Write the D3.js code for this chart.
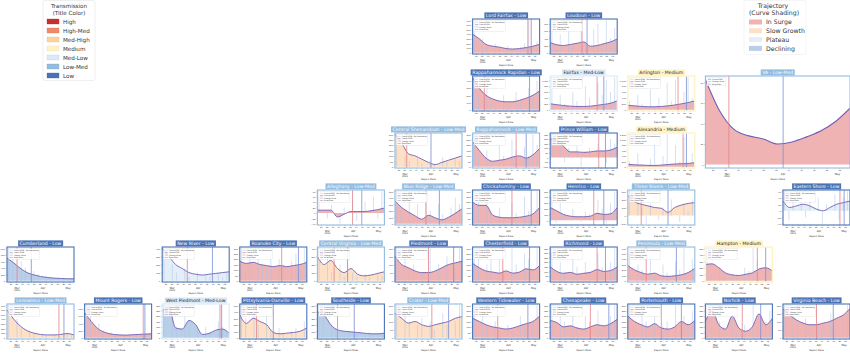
<!DOCTYPE html>
<html>
<head>
<meta charset="utf-8">
<script src="https://cdn.jsdelivr.net/npm/d3@7"></script>
<style>
body { margin: 0; background: #fff; font-family: "DejaVu Sans", sans-serif; }
</style>
</head>
<body>
<script>
// Health district panels, laid out roughly like the map of Virginia
var names = ["Lord Fairfax", "Loudoun", "Rappahannock Rapidan", "Fairfax", "Arlington", "VA",
  "Central Shenandoah", "Rappahannock", "Prince William", "Alexandria",
  "Alleghany", "Blue Ridge", "Chickahominy", "Henrico", "Three Rivers", "Eastern Shore",
  "Cumberland", "New River", "Roanoke City", "Central Virginia", "Piedmont", "Chesterfield", "Richmond", "Peninsula", "Hampton",
  "Lenowisco", "Mount Rogers", "West Piedmont", "Pittsylvania-Danville", "Southside", "Crater", "Western Tidewater", "Chesapeake", "Portsmouth", "Norfolk", "Virginia Beach"];

var levels = ["Low", "Low", "Low", "Med-Low", "Medium", "Low-Med",
  "Low-Med", "Low-Med", "Low", "Medium",
  "Low-Med", "Low-Med", "Low", "Low", "Low-Med", "Low",
  "Low", "Low", "Low", "Low-Med", "Low", "Low", "Low", "Low-Med", "Medium",
  "Low-Med", "Low", "Med-Low", "Low", "Low", "Low-Med", "Low", "Low", "Low", "Low", "Low"];

var trajectories = ["In Surge", "In Surge", "In Surge", "In Surge", "In Surge", "In Surge",
  "Slow Growth", "In Surge", "In Surge", "In Surge",
  "In Surge", "In Surge", "In Surge", "In Surge", "Slow Growth", "Plateau",
  "Declining", "Plateau", "In Surge", "Slow Growth", "In Surge", "In Surge", "In Surge", "In Surge", "In Surge",
  "Slow Growth", "In Surge", "Declining", "Slow Growth", "Declining", "Slow Growth", "In Surge", "In Surge", "In Surge", "In Surge", "In Surge"];

var changeDates = ["2022-04-24", "2022-03-27", "2022-03-03", "2022-04-14", "2022-04-18", "2022-03-02",
  "2022-03-03", "2022-04-10", "2022-04-16", "2022-04-24",
  "2022-03-31", "2022-03-26", "2022-04-05", "2022-04-10", "2022-03-05", "2022-04-26",
  "2022-03-01", "2022-03-19", "2022-04-08", "2022-03-09", "2022-03-29", "2022-03-25", "2022-04-14", "2022-03-11", "2022-04-20",
  "2022-04-20", "2022-04-28", "2022-04-27", "2022-03-09", "2022-03-13", "2022-04-02", "2022-03-19", "2022-04-06", "2022-03-29", "2022-04-02", "2022-03-29"];

var pointDates = ["2022-04-28", "2022-04-02", "2022-04-26", "2022-04-22", "2022-04-28", "2022-04-01",
  "2022-04-01", "2022-04-22", "2022-04-24", "2022-04-28",
  "2022-04-11", "2022-04-11", "2022-04-28", "2022-04-22", "2022-04-06", "2022-05-01",
  "2022-03-18", "2022-04-18", "2022-04-28", "2022-03-25", "2022-04-28", "2022-04-26", "2022-04-24", "2022-04-16", "2022-04-30",
  "2022-04-26", "2022-04-30", "2022-04-29", "2022-03-29", "2022-04-02", "2022-04-22", "2022-04-24", "2022-04-28", "2022-04-22", "2022-04-24", "2022-04-18"];

var dateRange = ["2022-02-17", "2022-05-08"];

// Cases/100K (smoothed)
var smoothDates = ["2022-02-17", "2022-02-25", "2022-03-05", "2022-03-13", "2022-03-21", "2022-03-29",
  "2022-04-06", "2022-04-14", "2022-04-22", "2022-04-30", "2022-05-08"];
var smoothVals = [
  [400, 300, 180, 140, 120, 90, 80, 90, 110, 140, 180],
  [280, 220, 200, 230, 260, 300, 180, 200, 250, 300, 380],
  [450, 300, 200, 150, 120, 110, 110, 130, 160, 200, 260],
  [200, 170, 140, 120, 110, 110, 120, 150, 180, 220, 300],
  [150, 130, 110, 100, 100, 110, 130, 160, 200, 240, 300],
  [83, 52, 34, 28, 25, 20, 22, 27, 33, 42, 55],
  [300, 220, 120, 100, 70, 40, 20, 40, 60, 80, 100],
  [230, 150, 80, 50, 60, 70, 90, 100, 80, 110, 170],
  [200, 190, 120, 60, 60, 55, 60, 70, 70, 80, 110],
  [90, 70, 60, 50, 45, 60, 80, 100, 110, 120, 150],
  [10, 10, 10, -15, -5, 5, 5, 5, 8, 12, 18],
  [350, 250, 180, 120, 70, 130, 90, 60, 100, 160, 230],
  [200, 170, 170, 80, 60, 55, 55, 60, 70, 90, 150],
  [220, 160, 100, 70, 60, 60, 70, 120, 100, 110, 220],
  [250, 170, 140, 120, 100, 90, 40, 100, 130, 150, 160],
  [30, 10, 15, 20, 15, 5, 0, 10, 20, 25, 30],
  [700, 550, 380, 250, 180, 130, 100, 80, 70, 60, 60],
  [400, 300, 200, 150, 100, 80, 70, 80, 90, 100, 110],
  [180, 160, 170, 150, 140, 130, 140, 130, 140, 150, 170],
  [300, 200, 250, 150, 100, 150, 80, 60, 70, 90, 110],
  [150, 100, 80, 60, 50, 50, 60, 80, 100, 110, 120],
  [160, 120, 90, 80, 70, 90, 70, 80, 110, 100, 140],
  [150, 100, 80, 90, 70, 80, 90, 120, 100, 110, 150],
  [280, 200, 150, 120, 140, 90, 80, 90, 110, 150, 230],
  [250, 260, 200, 120, 90, 80, 100, 120, 180, 200, 150],
  [600, 400, 250, 150, 100, 70, 60, 60, 70, 90, 60],
  [700, 450, 250, 150, 100, 80, 70, 80, 90, 100, 110],
  [250, 280, 90, 80, 160, 120, 30, 40, 70, 80, 40],
  [350, 220, 300, 250, 200, 80, 60, 70, 80, 100, 150],
  [400, 350, 200, 120, 100, 90, 80, 70, 60, 60, 70],
  [150, 120, 90, 100, 80, 70, 80, 90, 100, 120, 130],
  [180, 150, 120, 100, 90, 80, 90, 110, 130, 150, 200],
  [160, 140, 100, 110, 90, 80, 100, 120, 110, 130, 170],
  [200, 150, 120, 100, 130, 90, 80, 100, 150, 120, 160],
  [150, 250, 120, 80, 200, 90, 60, 100, 220, 120, 180],
  [180, 140, 110, 90, 80, 80, 90, 100, 120, 140, 180]
];

// Cases/100K - No Smoothing
var rawDates = ["2022-02-19", "2022-02-24", "2022-03-01", "2022-03-06", "2022-03-11", "2022-03-16", "2022-03-21", "2022-03-26",
  "2022-03-31", "2022-04-05", "2022-04-10", "2022-04-15", "2022-04-20", "2022-04-25", "2022-04-30", "2022-05-05"];
var rawVals = [
  [500, 0, 300, 120, 0, 200, 90, 0, 150, 60, 0, 120, 200, 700, 100, 250],
  [600, 100, 500, 0, 700, 200, 0, 600, 300, 0, 650, 800, 200, 900, 400, 700],
  [400, 200, 0, 300, 150, 100, 0, 200, 80, 0, 250, 100, 0, 300, 200, 400],
  [700, 0, 500, 200, 0, 600, 300, 0, 800, 400, 0, 900, 500, 1000, 600, 1100],
  [300, 0, 500, 200, 0, 700, 100, 400, 0, 900, 300, 1000, 0, 600, 1100, 400],
  [],
  [200, 0, 100, 50, 0, 80, 30, 0, 60, 20, 0, 90, 40, 0, 70, 50],
  [300, 100, 0, 150, 60, 0, 200, 100, 0, 250, 150, 0, 180, 100, 300, 200],
  [250, 0, 150, -50, 100, 0, 120, -100, 60, 100, 0, 150, 80, -60, 200, 150],
  [200, 0, 500, 100, 0, 300, 900, 0, 400, 1200, 0, 800, 200, 1100, 0, 500],
  [60, 0, -20, 30, 0, -40, 20, 0, 50, -30, 0, 40, 0, 60, -20, 80],
  [500, 200, 0, 400, 100, 300, 0, 350, 200, 0, 300, 150, 0, 250, 400, 300],
  [150, 250, 0, 200, 100, 0, 150, 50, 0, 200, 100, 0, 250, 120, 0, 300],
  [400, -50, 300, 100, 0, 200, 50, -30, 150, 100, 0, 350, 200, -60, 300, 500],
  [300, 0, 200, 100, -100, 150, 0, -50, 100, 0, 200, 0, -80, 150, 50, 200],
  [60, -30, 40, 0, 20, -20, 30, 0, 40, -40, 20, 0, 50, -30, 40, 60],
  [1000, 800, 0, 600, 400, 0, 300, 200, 0, 150, 100, 0, 80, 60, 0, 50],
  [300, 0, 200, 100, 0, 150, 50, 0, 100, 0, 80, 50, 0, 90, 40, 100],
  [300, 100, 250, 0, 200, 150, 100, 250, 0, 200, 150, 0, 180, 250, 100, 300],
  [400, 0, 300, 100, 0, 200, 50, 0, 100, 50, 0, 80, 40, 0, 100, 60],
  [200, 0, 150, 0, 100, 0, 50, 0, 200, 0, 100, 0, 150, 0, 80, 200],
  [200, 300, 0, 150, 250, 0, 200, 100, 0, 300, 150, 0, 250, 200, 0, 300],
  [300, 0, 200, 100, 0, 250, 150, 0, 200, 100, 0, 300, 150, 0, 200, 350],
  [500, 0, 300, 200, 0, 400, 100, 0, 300, 150, 0, 350, 200, 600, 0, 400],
  [300, 100, 0, 200, 150, 0, 100, 50, 0, 200, 150, 500, 300, 0, 200, 150],
  [700, 0, 400, 200, 0, 150, 100, 0, 80, 50, 0, 60, 40, 0, 120, 50],
  [900, 600, 0, 400, 200, 0, 150, 100, 0, 100, 80, 0, 100, 60, 0, 120],
  [300, 0, 200, 100, 0, 250, 150, 0, 80, 0, 100, 50, 0, 150, 100, 60],
  [500, 300, 0, 400, 200, 0, 350, 100, 0, 150, 80, 0, 100, 150, 0, 250],
  [500, 300, 0, 200, 150, 0, 100, 80, 0, 60, 0, 50, 80, 0, 40, 60],
  [200, 0, 150, 100, 0, 80, 120, 0, 100, 50, 0, 150, 80, 0, 100, 200],
  [250, 0, 200, 100, 0, 150, 80, 0, 120, 60, 0, 200, 100, 0, 150, 300],
  [300, 0, 200, 150, 0, 250, 100, 0, 200, 150, 0, 250, 100, 0, 200, 300],
  [300, 100, 0, 200, 150, 0, 200, 0, 100, 150, 0, 300, 0, 200, 100, 250],
  [200, 300, 0, 150, 100, 0, 250, 50, 0, 120, 0, 300, 100, 0, 150, 250],
  [200, 0, 150, 100, 0, 120, 80, 0, 100, 50, 0, 150, 80, 0, 120, 200]
];

// grid cell of each panel: [col, row, colSpan, rowSpan]
var gridPos = [[6, 0], [7, 0], [6, 1], [7, 1], [8, 1], [9, 1, 2, 2],
  [5, 2], [6, 2], [7, 2], [8, 2],
  [4, 3], [5, 3], [6, 3], [7, 3], [8, 3], [10, 3],
  [0, 4], [2, 4], [3, 4], [4, 4], [5, 4], [6, 4], [7, 4], [8, 4], [9, 4],
  [0, 5], [1, 5], [2, 5], [3, 5], [4, 5], [5, 5], [6, 5], [7, 5], [8, 5], [9, 5], [10, 5]];

var levelNames = ["High", "High-Med", "Med-High", "Medium", "Med-Low", "Low-Med", "Low"];
var levelColors = ["#c8302f", "#ef8a66", "#fdd39c", "#fff3c6", "#dce9f7", "#93bce0", "#4a73b6"];
var trajNames = ["In Surge", "Slow Growth", "Plateau", "Declining"];
var trajColors = ["#f0b3b3", "#fde0c6", "#e4eef8", "#b9cfe8"];

var parse = d3.timeParse("%Y-%m-%d");
var levelColor = d3.scaleOrdinal().domain(levelNames).range(levelColors);
var trajColor = d3.scaleOrdinal().domain(trajNames).range(trajColors);

var colStep = 77.6, rowStep = 57;
var cellW = 67, cellH = 35;

var svg = d3.select("body").append("svg")
    .attr("width", 850)
    .attr("height", 354);

names.forEach(function(name, i) { drawPanel(i); });

function drawPanel(i) {
  var g = gridPos[i];
  var cs = g[2] || 1, rs = g[3] || 1;
  var big = cs > 1;
  var x0 = 7 + colStep * g[0];
  var y0 = 19 + rowStep * g[1];
  var w = colStep * (cs - 1) + cellW;
  var h = rowStep * (rs - 1) + cellH;
  var lv = levels[i];
  var name = names[i];

  var smooth = smoothDates.map(function(d, k) { return {date: parse(d), v: smoothVals[i][k]}; });
  var raw = rawVals[i].map(function(v, k) { return {date: parse(rawDates[k]), v: v}; });

  var x = d3.scaleTime()
      .domain([parse(dateRange[0]), parse(dateRange[1])])
      .range([x0, x0 + w]);

  var all = smoothVals[i].concat(rawVals[i]).concat([0]);
  var lo = d3.min(all), hi = d3.max(all);
  var pad = (hi - lo) * 0.04;
  var y = d3.scaleLinear()
      .domain([lo - pad, hi + pad])
      .range([y0 + h, y0]);

  var panel = svg.append("g").attr("class", "panel");

  var clipId = "clip" + i;
  panel.append("clipPath").attr("id", clipId)
    .append("rect").attr("x", x0).attr("y", y0).attr("width", w).attr("height", h);

  var plot = panel.append("g").attr("clip-path", "url(#" + clipId + ")");

  var area = d3.area()
      .x(function(d) { return x(d.date); })
      .y0(y(0))
      .y1(function(d) { return y(d.v); })
      .curve(d3.curveMonotoneX);

  var line = d3.line()
      .x(function(d) { return x(d.date); })
      .y(function(d) { return y(d.v); })
      .curve(d3.curveMonotoneX);

  plot.append("path")
      .datum(smooth)
      .attr("d", area)
      .attr("fill", trajColor(trajectories[i]));

  plot.selectAll(".spike")
      .data(raw)
    .enter().append("line")
      .attr("x1", function(d) { return x(d.date); })
      .attr("x2", function(d) { return x(d.date); })
      .attr("y1", y(0))
      .attr("y2", function(d) { return y(d.v); })
      .attr("stroke", "#a8c3e8")
      .attr("stroke-width", 0.5);

  plot.append("path")
      .datum(smooth)
      .attr("d", line)
      .attr("fill", "none")
      .attr("stroke", "#6f5fb6")
      .attr("stroke-width", big ? 1.1 : 0.9);

  [[changeDates[i], "#e2838a"], [pointDates[i], "#7c8ed4"]].forEach(function(m) {
    plot.append("line")
        .attr("x1", x(parse(m[0]))).attr("x2", x(parse(m[0])))
        .attr("y1", y0).attr("y2", y0 + h)
        .attr("stroke", m[1])
        .attr("stroke-width", 0.8);
  });

  // axes
  var yAxis = panel.append("g")
      .attr("transform", "translate(" + x0 + ",0)")
      .call(d3.axisLeft(y).ticks(big ? 5 : 6).tickSize(1.2).tickPadding(0.8));
  yAxis.select(".domain").remove();
  yAxis.selectAll("text").style("font-size", "2.4px").attr("fill", "#333");
  yAxis.selectAll("line").attr("stroke", "#555").attr("stroke-width", 0.3);

  var xAxis = panel.append("g")
      .attr("transform", "translate(0," + (y0 + h) + ")")
      .call(d3.axisBottom(x).ticks(d3.timeMonday.every(1)).tickFormat(d3.timeFormat("%d")).tickSize(1.2).tickPadding(0.6));
  xAxis.select(".domain").remove();
  xAxis.selectAll("text").style("font-size", "2.2px").attr("fill", "#333");
  xAxis.selectAll("line").attr("stroke", "#555").attr("stroke-width", 0.3);

  x.ticks(d3.timeMonth.every(1)).forEach(function(m, k) {
    panel.append("text")
        .attr("x", x(m))
        .attr("y", y0 + h + 6.5)
        .attr("text-anchor", "middle")
        .style("font-size", "2.6px")
        .attr("fill", "#333")
        .text(d3.timeFormat("%b")(m));
    if (k === 0) {
      panel.append("text")
          .attr("x", x(m))
          .attr("y", y0 + h + 9.2)
          .attr("text-anchor", "middle")
          .style("font-size", "2.3px")
          .attr("fill", "#333")
          .text(d3.timeFormat("%Y")(m));
    }
  });

  panel.append("text")
      .attr("x", x0 + w / 2)
      .attr("y", y0 + h + 11.5)
      .attr("text-anchor", "middle")
      .style("font-size", "2.4px")
      .attr("fill", "#333")
      .text("Report Date");

  // frame in transmission color
  panel.append("rect")
      .attr("x", x0).attr("y", y0)
      .attr("width", w).attr("height", h)
      .attr("fill", "none")
      .attr("stroke", levelColor(lv))
      .attr("stroke-width", lv === "Medium" ? 1.4 : 1.1);

  // inner legend
  var entries = [];
  if (rawVals[i].length) entries.push(["Cases/100K - No Smoothing", "#a8c3e8"]);
  entries.push(["Cases/100K", "#6f5fb6"], ["Change Point", "#e2838a"], ["Point Date", "#7c8ed4"]);
  var lw = rawVals[i].length ? 31 : 19;
  var leg = panel.append("g").attr("transform", "translate(" + (x0 + 1.5) + "," + (y0 + 1.5) + ")");
  leg.append("rect")
      .attr("width", lw).attr("height", entries.length * 2.4 + 1.2)
      .attr("fill", "#fff").attr("fill-opacity", 0.85)
      .attr("stroke", "#ccc").attr("stroke-width", 0.25);
  entries.forEach(function(e, k) {
    var yy = 1.8 + k * 2.4;
    leg.append("line").attr("x1", 1).attr("x2", 4.2).attr("y1", yy).attr("y2", yy)
        .attr("stroke", e[1]).attr("stroke-width", 0.5);
    leg.append("text").attr("x", 5.2).attr("y", yy + 0.6)
        .style("font-size", "1.8px").attr("fill", "#333").text(e[0]);
  });

  // title box in transmission color
  var titleBox = panel.append("rect");
  var title = panel.append("text")
      .attr("x", x0 + w / 2)
      .attr("y", y0 - 1.8)
      .attr("text-anchor", "middle")
      .style("font-size", "4.6px")
      .attr("fill", (lv === "Low" || lv === "Low-Med") ? "#fff" : "#222")
      .text(name + " - " + lv);
  var bb = title.node().getBBox();
  titleBox
      .attr("x", bb.x - 1.5).attr("y", y0 - 6.6)
      .attr("width", bb.width + 3).attr("height", 6)
      .attr("fill", levelColor(lv));
}

// Transmission legend (top-left)
var tl = svg.append("g");
tl.append("rect").attr("x", 43).attr("y", 0.5).attr("width", 52).attr("height", 80)
    .attr("fill", "#fff").attr("stroke", "#e4e4e4").attr("stroke-width", 0.6).attr("rx", 2);
tl.append("text").attr("x", 69).attr("y", 8).attr("text-anchor", "middle")
    .style("font-size", "5.6px").attr("fill", "#333").text("Transmission");
tl.append("text").attr("x", 69).attr("y", 14.5).attr("text-anchor", "middle")
    .style("font-size", "5.6px").attr("fill", "#333").text("(Title Color)");
levelNames.forEach(function(n, k) {
  var yy = 21.5 + k * 9;
  tl.append("rect").attr("x", 47).attr("y", yy - 2.5).attr("width", 12).attr("height", 5)
      .attr("fill", levelColor(n)).attr("stroke", d3.color(levelColor(n)).darker(0.4)).attr("stroke-width", 0.3);
  tl.append("text").attr("x", 63).attr("y", yy + 2).style("font-size", "5.6px").attr("fill", "#333").text(n);
});

// Trajectory legend (top-right)
var tr = svg.append("g");
tr.append("rect").attr("x", 744).attr("y", 0.5).attr("width", 62).attr("height", 54)
    .attr("fill", "#fff").attr("stroke", "#eee").attr("stroke-width", 0.6).attr("rx", 2);
tr.append("text").attr("x", 773).attr("y", 8).attr("text-anchor", "middle")
    .style("font-size", "6.2px").attr("fill", "#333").text("Trajectory");
tr.append("text").attr("x", 774).attr("y", 15).attr("text-anchor", "middle")
    .style("font-size", "6.2px").attr("fill", "#333").text("(Curve Shading)");
trajNames.forEach(function(n, k) {
  var yy = 22 + k * 8.8;
  tr.append("rect").attr("x", 749).attr("y", yy - 2.5).attr("width", 13).attr("height", 5)
      .attr("fill", trajColor(n));
  tr.append("text").attr("x", 766).attr("y", yy + 2.2).style("font-size", "6.2px").attr("fill", "#333").text(n);
});
</script>
</body>
</html>
